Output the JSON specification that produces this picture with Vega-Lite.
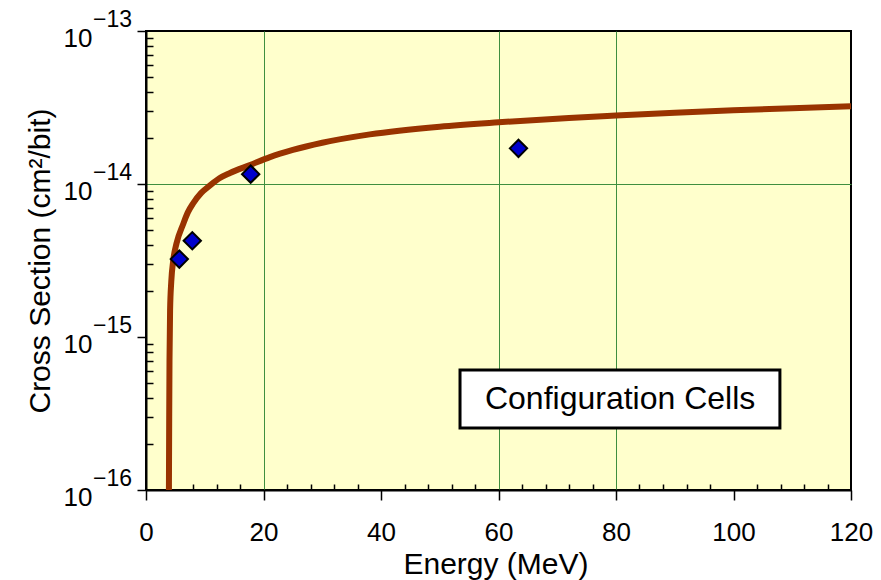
{
  "$schema": "https://vega.github.io/schema/vega-lite/v6.json",
  "width": 705,
  "height": 459,
  "autosize": "none",
  "padding": {"left": 146, "top": 31, "right": 30, "bottom": 90},
  "background": "white",
  "config": {
    "view": {"fill": "#FFFFCC", "stroke": "black", "strokeWidth": 2},
    "font": "Liberation Sans"
  },
  "datasets": {
    "curve": [
      {"E": 3.9, "S": 1e-16},
      {"E": 3.95, "S": 3e-16},
      {"E": 4.0, "S": 7e-16},
      {"E": 4.1, "S": 1.5e-15},
      {"E": 4.3, "S": 2.3e-15},
      {"E": 4.65, "S": 3.2e-15},
      {"E": 5.2, "S": 4.1e-15},
      {"E": 6.35, "S": 5.5e-15},
      {"E": 7.1, "S": 6.5e-15},
      {"E": 8.05, "S": 7.5e-15},
      {"E": 9.4, "S": 8.75e-15},
      {"E": 10.9, "S": 9.8e-15},
      {"E": 12.5, "S": 1.09e-14},
      {"E": 14.3, "S": 1.18e-14},
      {"E": 17.7, "S": 1.33e-14},
      {"E": 21.1, "S": 1.5e-14},
      {"E": 25, "S": 1.67e-14},
      {"E": 30, "S": 1.86e-14},
      {"E": 38.1, "S": 2.11e-14},
      {"E": 50, "S": 2.37e-14},
      {"E": 60, "S": 2.53e-14},
      {"E": 72, "S": 2.7e-14},
      {"E": 80, "S": 2.8e-14},
      {"E": 90, "S": 2.92e-14},
      {"E": 100, "S": 3.03e-14},
      {"E": 110, "S": 3.13e-14},
      {"E": 120, "S": 3.22e-14}
    ],
    "points": [
      {"E": 5.67, "S": 3.23e-15},
      {"E": 7.88, "S": 4.26e-15},
      {"E": 17.82, "S": 1.16e-14},
      {"E": 63.4, "S": 1.71e-14}
    ],
    "exps": [
      {"S": 1e-13, "t": "−13"},
      {"S": 1e-14, "t": "−14"},
      {"S": 1e-15, "t": "−15"},
      {"S": 1e-16, "t": "−16"}
    ],
    "box": [
      {"E1": 53.45, "E2": 107.9, "S1": 2.54e-16, "S2": 6.08e-16, "Ec": 80.7, "Sc": 3.93e-16, "label": "Configuration Cells"}
    ]
  },
  "layer": [
    {
      "data": {"name": "curve"},
      "mark": {"type": "line", "color": "#993300", "strokeWidth": 6, "interpolate": "monotone", "clip": false},
      "encoding": {
        "x": {
          "field": "E", "type": "quantitative",
          "scale": {"domain": [0, 120], "nice": false, "zero": false},
          "axis": {
            "title": "Energy (MeV)",
            "values": [0,4,8,12,16,20,24,28,32,36,40,44,48,52,56,60,64,68,72,76,80,84,88,92,96,100,104,108,112,116,120],
            "tickCount": 1000,
            "format": "d",
            "labelExpr": "datum.value % 20 === 0 ? datum.label : ''",
            "tickSize": {"condition": {"test": "datum.value % 20 === 0", "value": 10}, "value": -6},
            "tickColor": "black",
            "tickWidth": 1.5,
            "domainColor": "black",
            "domainWidth": 2,
            "grid": true,
            "gridColor": "#3F8F3F",
            "gridWidth": 1,
            "gridOpacity": {"condition": {"test": "datum.value == 20 || datum.value == 60 || datum.value == 80", "value": 1}, "value": 0},
            "labelFont": "Liberation Sans",
            "labelFontSize": 26,
            "labelColor": "black",
            "labelBaseline": "alphabetic",
            "labelPadding": 40,
            "labelFlush": false,
            "labelOverlap": false,
            "titleFont": "Liberation Sans",
            "titleFontSize": 30,
            "titleFontWeight": "normal",
            "titleColor": "black",
            "titleX": 349.5,
            "titleY": 83,
            "titleBaseline": "alphabetic",
            "titleAlign": "center"
          }
        },
        "y": {
          "field": "S", "type": "quantitative",
          "scale": {"type": "log", "domain": [1e-16, 1e-13], "nice": false},
          "axis": {
            "title": "Cross Section (cm²/bit)",
            "values": [1e-16,2e-16,3e-16,4e-16,5e-16,6e-16,7e-16,8e-16,9e-16,1e-15,2e-15,3e-15,4e-15,5e-15,6e-15,7e-15,8e-15,9e-15,1e-14,2e-14,3e-14,4e-14,5e-14,6e-14,7e-14,8e-14,9e-14,1e-13],
            "tickCount": 1000,
            "labelExpr": "abs(log(datum.value)/LN10 - round(log(datum.value)/LN10)) < 0.001 ? '10' : ''",
            "tickSize": {"condition": {"test": "abs(log(datum.value)/LN10 - round(log(datum.value)/LN10)) < 0.001", "value": 9}, "value": -7},
            "tickColor": "black",
            "tickWidth": 1.5,
            "domainColor": "black",
            "domainWidth": 2,
            "grid": true,
            "gridColor": "#3F8F3F",
            "gridWidth": 1,
            "gridOpacity": {"condition": {"test": "abs(log(datum.value)/LN10 + 14) < 0.001", "value": 1}, "value": 0},
            "labelFont": "Liberation Sans",
            "labelFontSize": 26,
            "labelColor": "black",
            "labelAlign": "right",
            "labelBaseline": "alphabetic",
            "labelOffset": 15,
            "labelPadding": 45,
            "labelFlush": false,
            "labelOverlap": false,
            "titleFont": "Liberation Sans",
            "titleFontSize": 30,
            "titleFontWeight": "normal",
            "titleColor": "black",
            "titleX": -106,
            "titleY": 229.5,
            "titleAngle": -90,
            "titleBaseline": "middle",
            "titleAlign": "center"
          }
        }
      }
    },
    {
      "data": {"name": "points"},
      "mark": {"type": "point", "shape": "diamond", "filled": true, "fill": "#0000CC", "stroke": "black", "strokeWidth": 2, "size": 300, "opacity": 1},
      "encoding": {
        "x": {"field": "E", "type": "quantitative"},
        "y": {"field": "S", "type": "quantitative"}
      }
    },
    {
      "data": {"name": "box"},
      "mark": {"type": "rect", "fill": "white", "stroke": "black", "strokeWidth": 3},
      "encoding": {
        "x": {"field": "E1", "type": "quantitative"},
        "x2": {"field": "E2"},
        "y": {"field": "S1", "type": "quantitative"},
        "y2": {"field": "S2"}
      }
    },
    {
      "data": {"name": "box"},
      "mark": {"type": "text", "fontSize": 32, "font": "Liberation Sans", "color": "black", "align": "center", "baseline": "middle"},
      "encoding": {
        "x": {"field": "Ec", "type": "quantitative"},
        "y": {"field": "Sc", "type": "quantitative"},
        "text": {"field": "label"}
      }
    },
    {
      "data": {"name": "exps"},
      "mark": {"type": "text", "fontSize": 23, "font": "Liberation Sans", "color": "black", "align": "left", "baseline": "alphabetic", "dx": -53, "dy": -4, "clip": false},
      "encoding": {
        "x": {"datum": 0, "type": "quantitative"},
        "y": {"field": "S", "type": "quantitative"},
        "text": {"field": "t"}
      }
    }
  ]
}
